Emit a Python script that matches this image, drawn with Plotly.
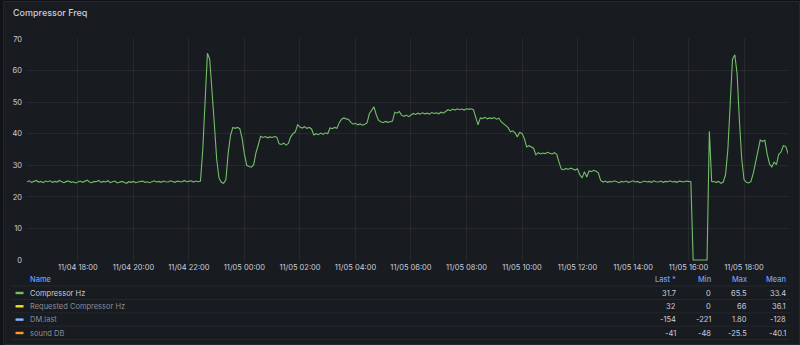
import pandas as pd
import plotly.graph_objects as go

# ---------------- data ----------------
start_time = "2024-11-04 16:10"
sample_step = "5min"
compressor_hz = [
    24.8, 25.1, 24.6, 24.9, 25.2, 24.7, 24.9, 24.5, 25.0, 24.8,
    25.1, 24.6, 24.9, 24.7, 25.2, 24.8, 24.5, 24.9, 25.0, 24.6,
    24.8, 24.4, 24.7, 25.0, 24.6, 24.9, 25.3, 24.7, 24.5, 24.9,
    24.8, 25.2, 24.6, 24.9, 24.7, 25.1, 24.5, 24.8, 25.0, 24.4,
    24.7, 24.9, 24.6, 24.3, 24.8, 24.6, 24.9, 24.5, 24.7, 24.8,
    25.0, 24.6, 24.8, 24.5, 24.9, 25.1, 24.7, 24.9, 24.6, 25.0,
    24.8, 24.7, 25.1, 24.8, 24.6, 25.0, 24.9, 24.7, 25.2, 24.8,
    24.9, 25.1, 24.7, 25.0, 24.8, 25.0,
    35.0, 52.0, 65.5, 63.5, 54.5, 43.0, 32.0, 26.0, 24.6, 24.3,
    25.5, 34.0, 39.5, 42.0, 41.7, 42.0, 41.6, 38.5, 33.5, 30.0,
    29.6, 29.4, 30.2, 34.0, 36.5, 39.2, 38.8, 39.1, 38.7, 39.0,
    38.8, 39.1, 38.9, 36.8, 36.6, 37.0, 36.4, 36.9, 39.0, 40.0,
    40.6, 42.8, 42.1, 41.8, 42.2, 41.7, 42.0, 41.5, 39.6, 40.0,
    39.7, 40.2, 39.8, 40.3, 40.0, 41.8, 41.6, 42.0, 41.7, 43.5,
    44.6, 45.0, 44.7, 44.5, 43.6, 43.0, 43.3, 42.8, 43.1, 42.7,
    43.0, 43.4, 46.3, 47.5, 48.5, 46.0, 44.2, 43.8, 43.5, 43.9,
    43.6, 43.8, 44.0, 46.8, 46.5, 47.0, 45.8, 45.5, 45.9, 45.4,
    45.8, 46.4, 46.1, 46.5, 46.2, 46.6, 46.3, 46.5, 46.2, 46.7,
    46.4, 46.6, 46.3, 46.8, 46.5, 47.1, 47.6, 47.3, 47.8, 47.5,
    47.9, 47.6, 47.8, 47.5, 47.9, 47.7, 47.9, 47.6, 45.5, 42.8,
    45.0, 44.8, 45.2, 44.7, 45.0, 44.8, 45.1, 44.6, 44.9, 43.8,
    43.2, 42.6, 41.9, 40.6, 40.9, 40.3, 39.0, 40.4, 40.1, 38.5,
    35.8, 36.2, 35.7, 35.4, 33.3, 34.0, 33.6, 33.9, 33.7, 34.1,
    33.8, 33.6, 34.0, 33.5, 31.0, 28.8, 28.6, 29.0, 28.7, 29.1,
    28.8, 28.5, 28.9, 27.0, 26.0, 28.0, 26.3, 28.2, 28.0, 28.4,
    28.1, 27.6, 25.2,
    24.7, 25.0, 24.6, 24.9, 24.7, 25.1, 24.8, 24.5, 24.9, 24.7,
    25.0, 24.6, 24.8, 25.1, 24.7, 24.9, 24.5, 24.8, 25.0, 24.7,
    24.9, 24.6, 25.1, 24.8, 24.7, 25.0, 24.6, 24.9, 24.8, 25.1,
    24.7, 24.9, 24.6, 25.0, 24.8, 24.7, 25.0, 24.9, 24.8,
    0.0, 0.0, 0.0, 0.0, 0.0, 0.0, 0.0,
    40.8, 24.9, 24.8, 24.6, 24.9, 24.3, 24.7,
    27.0, 35.0, 51.0, 63.5, 65.0, 59.0, 44.0, 32.0, 25.5, 24.6,
    24.4, 24.9, 27.5, 31.0, 34.5, 38.0, 37.6, 37.9, 33.5, 30.5,
    29.5, 31.0, 30.2, 33.5, 34.2, 36.2, 36.0, 34.0, 31.7,
]
x_start = "2024-11-04 16:10"
x_end = "2024-11-05 19:35"
tick_start = "2024-11-04 18:00"
y_ticks = [0, 10, 20, 30, 40, 50, 60, 70]

legend_names = ["Compressor Hz", "Requested Compressor Hz", "DM.last", "sound DB"]
legend_colors = ["#73BF69", "#FADE2A", "#8AB8FF", "#FF9830"]
stat_headers = ["Last *", "Min", "Max", "Mean"]
stat_last = ["31.7", "32", "-154", "-41"]
stat_min = ["0", "0", "-221", "-48"]
stat_max = ["65.5", "66", "1.80", "-25.5"]
stat_mean = ["33.4", "36.1", "-128", "-40.1"]

times = pd.date_range(start_time, periods=len(compressor_hz), freq=sample_step)

# ---------------- layout geometry (pixels) ----------------
WIDTH, HEIGHT = 800, 345
L, R, T, B = 24, 12, 38, 84
PW = WIDTH - L - R
PH = HEIGHT - T - B


def px(x):
    return (x - L) / PW


def py(y):
    return 1 - (y - T) / PH


FONT = "Inter, Noto Sans, sans-serif"
TEXT = "#ccccdc"
DIM = "rgba(204,204,220,0.65)"
BLUE = "#6E9FFF"
GRID = "rgba(204,204,220,0.08)"

fig = go.Figure()
fig.add_trace(go.Scatter(
    x=times, y=compressor_hz, mode="lines",
    line=dict(color="#73BF69", width=1.1),
    name="Compressor Hz", hoverinfo="skip",
))

shapes = []
annotations = []

# panel border
shapes.append(dict(type="rect", xref="paper", yref="paper",
                   x0=px(0.5), x1=px(799.5), y0=py(344.5), y1=py(1.5),
                   line=dict(color="rgba(204,204,220,0.10)", width=1),
                   fillcolor="#181b1f", layer="below"))

# title
annotations.append(dict(text="Compressor Freq", xref="paper", yref="paper",
                        x=px(8), y=py(12.5), xanchor="left", yanchor="middle",
                        showarrow=False,
                        font=dict(family=FONT, size=9, color=TEXT, weight=500)))

# legend table
row_y = [293, 306.3, 319.6, 333]
sep_y = [286, 299.5, 312.8, 326.2, 339.5]
for sy in sep_y:
    shapes.append(dict(type="line", xref="paper", yref="paper",
                       x0=px(9), x1=px(790), y0=py(sy), y1=py(sy),
                       line=dict(color="rgba(204,204,220,0.07)", width=1)))

annotations.append(dict(text="Name", xref="paper", yref="paper",
                        x=px(25.5), y=py(279.5), xanchor="left", yanchor="middle",
                        showarrow=False,
                        font=dict(family=FONT, size=7.5, color=BLUE, weight=500)))

col_right = [678, 712.5, 748.5, 788.5]
for hdr, cx in zip(stat_headers, col_right):
    annotations.append(dict(text=hdr, xref="paper", yref="paper",
                            x=px(cx), y=py(279.5), xanchor="right", yanchor="middle",
                            showarrow=False,
                            font=dict(family=FONT, size=7.5, color=BLUE, weight=500)))

columns = [stat_last, stat_min, stat_max, stat_mean]
for i, (name, color) in enumerate(zip(legend_names, legend_colors)):
    yy = row_y[i]
    shapes.append(dict(type="rect", xref="paper", yref="paper",
                       x0=px(12.5), x1=px(20.5), y0=py(yy + 1.2), y1=py(yy - 1.2),
                       line=dict(width=0), fillcolor=color))
    annotations.append(dict(text=name, xref="paper", yref="paper",
                            x=px(25.5), y=py(yy), xanchor="left", yanchor="middle",
                            showarrow=False,
                            font=dict(family=FONT, size=7.5,
                                      color=TEXT if i == 0 else DIM)))
    for col, cx in zip(columns, col_right):
        annotations.append(dict(text=col[i], xref="paper", yref="paper",
                                x=px(cx), y=py(yy), xanchor="right", yanchor="middle",
                                showarrow=False,
                                font=dict(family=FONT, size=7.5, color=TEXT)))

fig.update_layout(
    width=WIDTH, height=HEIGHT,
    margin=dict(l=L, r=R, t=T, b=B, pad=0),
    paper_bgcolor="#111217",
    plot_bgcolor="rgba(0,0,0,0)",
    showlegend=False,
    shapes=shapes,
    annotations=annotations,
    xaxis=dict(
        type="date", range=[x_start, x_end],
        tick0=tick_start, dtick=2 * 3600 * 1000,
        tickformat="%m/%d %H:%M",
        showgrid=True, gridcolor=GRID, gridwidth=1,
        zeroline=False, showline=False, ticks="",
        tickfont=dict(family=FONT, size=7.5, color=TEXT),
        fixedrange=True,
    ),
    yaxis=dict(
        range=[-0.3, 70.3], tickvals=y_ticks,
        showgrid=True, gridcolor=GRID, gridwidth=1,
        zeroline=False, showline=False, ticks="",
        ticklabelstandoff=4,
        tickfont=dict(family=FONT, size=7.5, color=TEXT),
        fixedrange=True,
    ),
)

fig.write_html("out.html", config={"displayModeBar": False})
